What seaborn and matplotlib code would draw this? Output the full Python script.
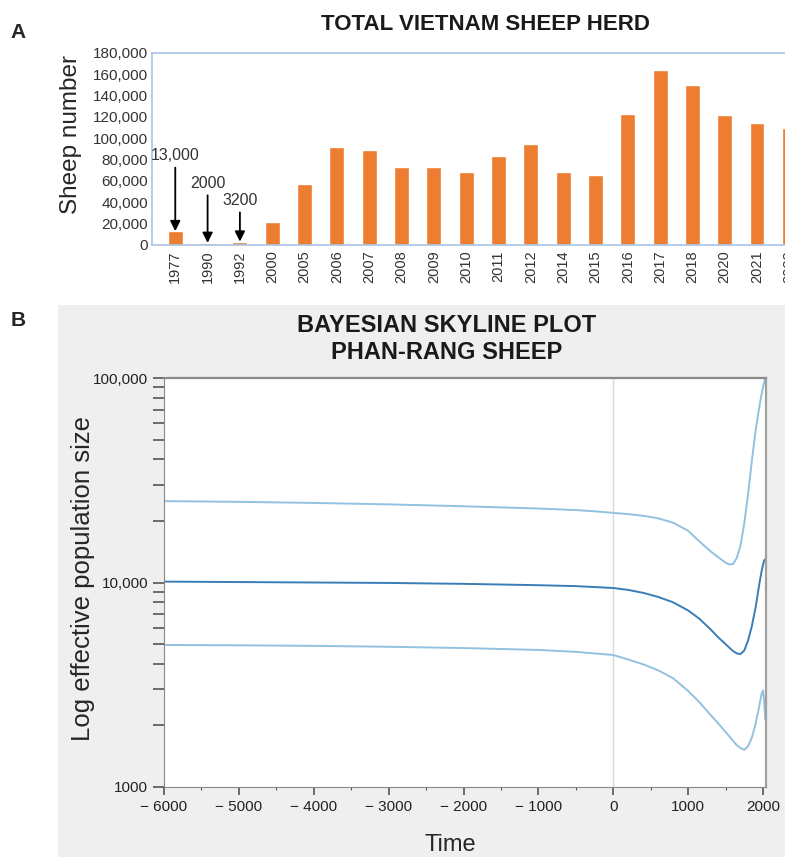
import numpy as np
import pandas as pd
import matplotlib
matplotlib.use("Agg")
import matplotlib.pyplot as plt
import matplotlib.ticker as mticker
from matplotlib.patches import Rectangle
import seaborn as sns

# Panel A data: total Vietnam sheep herd
years = ['1977', '1990', '1992', '2000', '2005', '2006', '2007', '2008', '2009', '2010',
         '2011', '2012', '2014', '2015', '2016', '2017', '2018', '2020', '2021', '2022']
herd = [13000, 2000, 3200, 22000, 57000, 92000, 89000, 73000, 73500, 68500,
        83000, 95000, 68500, 65500, 123000, 164000, 150000, 121500, 114500, 110000]

# labelled bars (year, label text, label height)
callouts = [('1977', '13,000', 84000), ('1990', '2000', 58000), ('1992', '3200', 42000)]

# Panel B data: Bayesian skyline plot, Phan-Rang sheep
time_pts = [-6000, -5000, -4000, -3000, -2000, -1000, -500, -250, 0, 200, 400, 600, 800,
            1000, 1150, 1300, 1400, 1500, 1550, 1600, 1650, 1700, 1750, 1800, 1850, 1900,
            1950, 1980, 2000, 2015, 2030]
upper_hpd = [25000, 24800, 24500, 24100, 23600, 23000, 22600, 22300, 21900, 21600, 21200,
             20600, 19600, 17900, 15900, 14200, 13300, 12500, 12250, 12300, 13200, 15200,
             19500, 27000, 39000, 55000, 72000, 83000, 90000, 95000, 100000]
median_ne = [10100, 10050, 10000, 9950, 9850, 9700, 9600, 9500, 9400, 9200, 8900, 8500,
             8000, 7300, 6650, 5900, 5400, 5000, 4800, 4620, 4500, 4470, 4650, 5200, 6100,
             7500, 9800, 11300, 12200, 12800, 13000]
lower_hpd = [4950, 4930, 4900, 4850, 4780, 4680, 4580, 4500, 4420, 4200, 3980, 3720, 3400,
             2950, 2600, 2250, 2050, 1860, 1770, 1680, 1600, 1550, 1520, 1580, 1740, 2030,
             2480, 2850, 2970, 2650, 2150]

sns.set_style("white")
plt.rcParams['font.family'] = ['Liberation Sans', 'DejaVu Sans']

fig = plt.figure(figsize=(7.85, 8.57), dpi=100)
fig.patch.set_facecolor('white')

# grey panel behind B
fig.add_artist(Rectangle((58 / 785, 0), 1 - 58 / 785, 1 - 305 / 857,
                         transform=fig.transFigure, facecolor='#efefef', edgecolor='none', zorder=0))

# ---------------- Panel A ----------------
axA = fig.add_axes([152 / 785, 1 - 245 / 857, 660 / 785, 192 / 857])
dfA = pd.DataFrame({'year': years, 'sheep': herd})
sns.barplot(data=dfA, x='year', y='sheep', color='#ED7D31', width=0.46,
            saturation=1, ax=axA)
axA.set_xlim(-0.72, len(years) - 0.3)
axA.set_ylim(0, 180000)
axA.yaxis.set_major_locator(mticker.MultipleLocator(20000))
axA.yaxis.set_major_formatter(mticker.FuncFormatter(lambda v, p: f'{int(v):,}'))
axA.tick_params(axis='y', length=0, labelsize=11, pad=3, labelcolor='#333333')
axA.tick_params(axis='x', length=0, labelsize=10.5, rotation=90, pad=4, labelcolor='#333333')
for s in ['top', 'bottom', 'left']:
    axA.spines[s].set_color('#a9c4e8')
    axA.spines[s].set_linewidth(1.2)
axA.spines['right'].set_visible(False)
axA.set_xlabel('')
axA.set_ylabel('Sheep number', fontsize=17.5)
axA.yaxis.set_label_coords(-0.106, 0.578)
for yr, txt, ypos in callouts:
    i = years.index(yr)
    axA.annotate(txt, xy=(i, herd[i]), xytext=(i, ypos), ha='center', va='center',
                 fontsize=11.5, color='#333333',
                 arrowprops=dict(arrowstyle='-|>', color='black', lw=1.3,
                                 mutation_scale=15, shrinkA=1, shrinkB=0))
fig.text(485 / 785, 1 - 25 / 857, 'TOTAL VIETNAM SHEEP HERD', ha='center', va='center',
         fontsize=16, fontweight='bold', color='#1a1a1a')
fig.text(18 / 785, 1 - 32 / 857, 'A', ha='center', va='center', fontsize=15,
         fontweight='bold')

# ---------------- Panel B ----------------
axB = fig.add_axes([164 / 785, 1 - 787 / 857, 602 / 785, 409 / 857])
axB.set_facecolor('white')
dfB = pd.DataFrame({
    'time': time_pts * 3,
    'ne': upper_hpd + median_ne + lower_hpd,
    'series': ['upper'] * len(time_pts) + ['median'] * len(time_pts) + ['lower'] * len(time_pts),
})
axB.axvline(0, color='#d9d9d9', lw=1, zorder=1)
sns.lineplot(data=dfB, x='time', y='ne', hue='series', sort=False,
             palette={'upper': '#93c1e0', 'median': '#3a7cb6', 'lower': '#93c1e0'},
             linewidth=1.4, legend=False, ax=axB)
axB.set_yscale('log')
axB.set_ylim(1000, 100000)
axB.set_xlim(-6000, 2040)
axB.xaxis.set_major_locator(mticker.MultipleLocator(1000))
axB.xaxis.set_minor_locator(mticker.MultipleLocator(500))
axB.xaxis.set_major_formatter(mticker.FuncFormatter(
    lambda v, p: f'\u2212 {int(abs(v))}' if v < 0 else f'{int(v)}'))
axB.yaxis.set_major_formatter(mticker.FuncFormatter(
    lambda v, p: '1000' if v < 5000 else f'{int(round(v)):,}'))
axB.yaxis.set_minor_formatter(mticker.NullFormatter())
axB.tick_params(axis='both', which='both', direction='out', color='#555555',
                labelcolor='#222222', labelsize=11)
axB.tick_params(axis='y', which='both', length=8, width=1.2, left=True)
axB.tick_params(axis='x', which='major', length=6, width=1.2, bottom=True)
axB.tick_params(axis='x', which='minor', length=2, width=0.8, bottom=True)
for s in ['left', 'bottom']:
    axB.spines[s].set_color('#888888')
axB.spines['top'].set_color('#8a8a8a')
axB.spines['top'].set_linewidth(1.6)
axB.spines['right'].set_color('#a0a0a0')
axB.spines['right'].set_linewidth(1.6)
axB.set_xlabel('Time', fontsize=17)
axB.xaxis.set_label_coords(0.475, -0.115)
axB.set_ylabel('Log effective population size', fontsize=18.5)
axB.yaxis.set_label_coords(-0.115, 0.509)
fig.text(447 / 785, 1 - 326 / 857, 'BAYESIAN SKYLINE PLOT', ha='center', va='center',
         fontsize=17, fontweight='bold', color='#1a1a1a')
fig.text(447 / 785, 1 - 353 / 857, 'PHAN-RANG SHEEP', ha='center', va='center',
         fontsize=17, fontweight='bold', color='#1a1a1a')
fig.text(18 / 785, 1 - 320 / 857, 'B', ha='center', va='center', fontsize=15,
         fontweight='bold')

fig.savefig('out.png', dpi=100)
